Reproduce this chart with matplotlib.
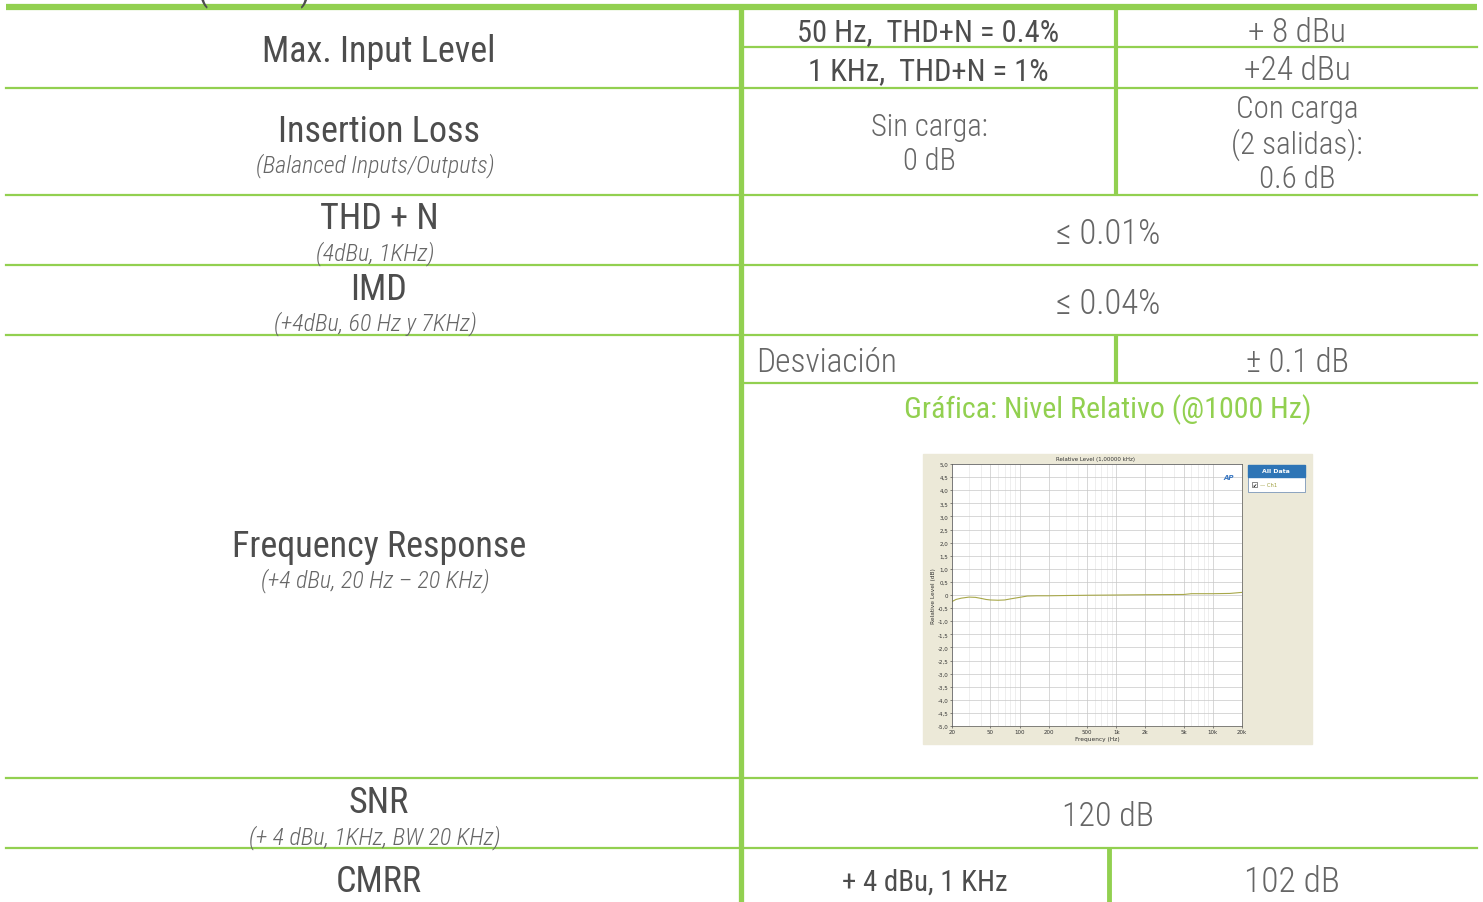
import matplotlib.pyplot as plt
from matplotlib.patches import Rectangle
from matplotlib.ticker import FixedLocator, LogLocator, NullFormatter

# table texts
row_titles = ["Max. Input Level", "Insertion Loss", "THD + N", "IMD",
              "Frequency Response", "SNR", "CMRR"]
row_notes = ["", "(Balanced Inputs/Outputs)", "(4dBu, 1KHz)",
             "(+4dBu, 60 Hz y 7KHz)", "(+4 dBu, 20 Hz – 20 KHz)",
             "(+ 4 dBu, 1KHz, BW 20 KHz)", ""]
max_input_cond = ["50 Hz,  THD+N = 0.4%", "1 KHz,  THD+N = 1%"]
max_input_vals = ["+ 8 dBu", "+24 dBu"]
insertion_vals = ["Sin carga:\n0 dB", "Con carga\n(2 salidas):\n0.6 dB"]
thd_val = "≤ 0.01%"
imd_val = "≤ 0.04%"
dev_label = "Desviación"
dev_val = "± 0.1 dB"
graph_title = "Gráfica: Nivel Relativo (@1000 Hz)"
snr_val = "120 dB"
cmrr_cond = "+ 4 dBu, 1 KHz"
cmrr_val = "102 dB"

# frequency response curve
freq_hz = [20, 22, 25, 30, 35, 40, 45, 50, 60, 70, 80, 100, 120, 150, 200,
           300, 500, 1000, 2000, 5000, 6000, 10000, 15000, 20000]
rel_db = [-0.25, -0.17, -0.12, -0.08, -0.09, -0.13, -0.17, -0.19, -0.2, -0.19,
          -0.15, -0.09, -0.04, -0.03, -0.03, -0.02, -0.01, 0.0, 0.01, 0.02,
          0.05, 0.05, 0.06, 0.1]
y_ticks = [x / 2 for x in range(-10, 11)]
x_ticks = [20, 50, 100, 200, 500, 1000, 2000, 5000, 10000, 20000]
x_tick_labels = ["20", "50", "100", "200", "500", "1k", "2k", "5k", "10k", "20k"]

green = "#92D050"
dark = "#4D4D4D"
soft = "#666666"
fam = ["Roboto Condensed", "Lato", "DejaVu Sans"]

fig = plt.figure(figsize=(14.83, 9.03), dpi=100)
ax = fig.add_axes([0, 0, 1, 1])
ax.set_xlim(0, 1483)
ax.set_ylim(903, 0)
ax.axis("off")

# grid lines of the table
ax.plot([6, 1477], [8, 8], color=green, lw=4.5, solid_capstyle="butt")
for y in [89, 196, 266, 336, 779, 849]:
    ax.plot([6, 1477], [y, y], color=green, lw=1.6)
for y in [48, 384]:
    ax.plot([741, 1477], [y, y], color=green, lw=1.6)
ax.plot([741, 741], [8, 903], color=green, lw=3.8, solid_capstyle="butt")
ax.plot([1116, 1116], [8, 196], color=green, lw=3.0, solid_capstyle="butt")
ax.plot([1116, 1116], [336, 384], color=green, lw=3.0, solid_capstyle="butt")
ax.plot([1109, 1109], [849, 903], color=green, lw=3.5, solid_capstyle="butt")

# cut-off text above the table
ax.text(254, -8, "(            )", ha="center", va="center", fontsize=24,
        color=dark, family=fam)


def put(x, y, s, size, color=soft, weight="light", **kw):
    kw.setdefault("ha", "center")
    ax.text(x, y + 1.5, s, va="center", fontsize=size, color=color,
            weight=weight, family=fam, **kw)


# left column
title_y = [50, 130, 218, 289, 546, 802, 881]
note_y = [0, 164, 252, 322, 579, 836, 0]
for t, n, ty, ny in zip(row_titles, row_notes, title_y, note_y):
    put(379, ty, t, 26, color=dark, weight="normal")
    if n:
        put(375, ny, n, 17.3, style="italic")

# right part
for s, y in zip(max_input_cond, [31, 70]):
    put(928, y, s, 22, color=dark, weight="normal")
for s, y in zip(max_input_vals, [31, 70]):
    put(1297, y, s, 24)
put(929, 143, insertion_vals[0], 22, linespacing=1.25)
put(1297, 143, insertion_vals[1], 22.3, linespacing=1.17)
put(1108, 233, thd_val, 25)
put(1108, 303, imd_val, 25)
put(756, 362, dev_label, 24, ha="left")
put(1298, 362, dev_val, 23.5)
put(1108, 408, graph_title, 21.6, color=green, weight="normal")
put(1108, 816, snr_val, 24.5)
put(925, 881, cmrr_cond, 20.8, color=dark, weight="normal")
put(1292, 881, cmrr_val, 25.5)

# inset: AP style plot
ax.add_patch(Rectangle((923, 455), 389, 290, color="#ECE9D8", zorder=1))
ax.add_patch(Rectangle((1248, 466), 57, 27, facecolor="white",
                       edgecolor="#7A96B8", lw=0.6, zorder=2))
ax.add_patch(Rectangle((1248, 466), 57, 12, color="#2E75B6", zorder=3))
ax.text(1276, 472, "All Data", ha="center", va="center", fontsize=4.5,
        color="white", weight="bold", zorder=4)
ax.add_patch(Rectangle((1252, 483), 5, 5, facecolor="white",
                       edgecolor="#333333", lw=0.4, zorder=4))
ax.text(1254.5, 485.5, "✔", ha="center", va="center", fontsize=3.5,
        color="black", zorder=5)
ax.text(1260, 485.5, "— Ch1", ha="left", va="center", fontsize=3.8,
        color="#A0A040", zorder=4)
ax.text(1096, 460, "Relative Level (1,00000 kHz)", ha="center", va="center",
        fontsize=4, color="#333333")

W, H = 1483, 903
ins = fig.add_axes([952 / W, 1 - 727 / H, (1242 - 952) / W, (727 - 465) / H])
ins.set_facecolor("white")
ins.plot(freq_hz, rel_db, color="#A8A84A", lw=0.8)
ins.set_xscale("log")
ins.set_xlim(20, 20000)
ins.set_ylim(-5, 5)
ins.xaxis.set_major_locator(FixedLocator(x_ticks))
ins.set_xticklabels(x_tick_labels)
ins.xaxis.set_minor_locator(LogLocator(base=10, subs=range(2, 10)))
ins.xaxis.set_minor_formatter(NullFormatter())
ins.set_yticks(y_ticks)
ins.set_yticklabels(["0" if v == 0 else f"{v:.1f}".replace(".", ",")
                     for v in y_ticks])
ins.grid(True, which="major", color="#C8C8C8", lw=0.5)
ins.grid(True, which="minor", color="#E2E2E2", lw=0.4)
ins.tick_params(labelsize=4, length=1.5, width=0.4, pad=1, colors="#333333")
ins.tick_params(which="minor", length=0)
for sp in ins.spines.values():
    sp.set_color("#555555")
    sp.set_linewidth(0.5)
ins.set_xlabel("Frequency (Hz)", fontsize=4.2, labelpad=1, color="#333333")
ins.set_ylabel("Relative Level (dB)", fontsize=4.2, labelpad=1,
               color="#333333")
ins.text(0.955, 0.95, "AP", transform=ins.transAxes, ha="center", va="center",
         fontsize=5, color="#3A78C2", style="italic", weight="bold")

fig.savefig("out.png", dpi=100)
